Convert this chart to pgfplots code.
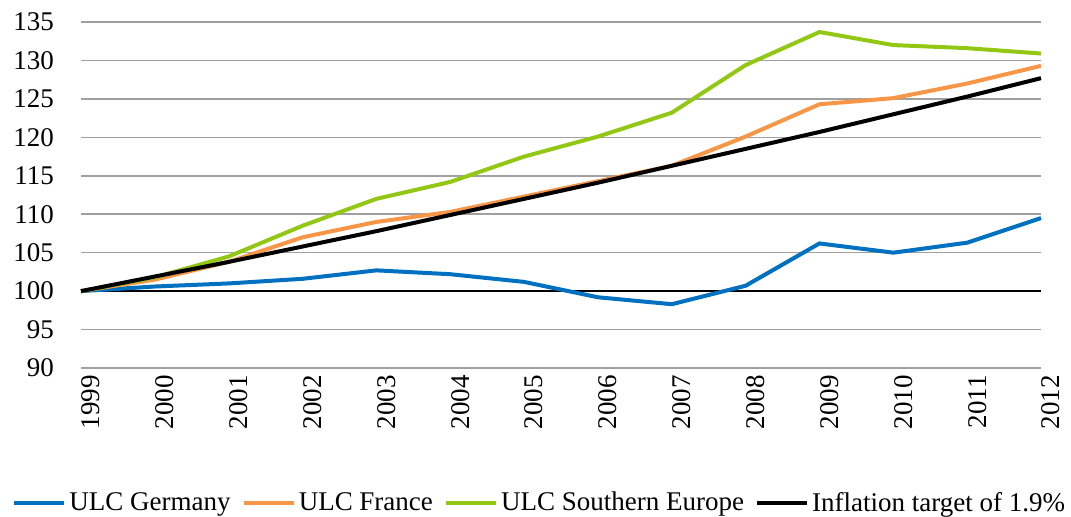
\documentclass[border=0pt]{standalone}
\usepackage{pgfplots}
\pgfplotsset{compat=1.18}
\usepackage{fontspec}
\setmainfont{Liberation Serif}
\definecolor{cblue}{RGB}{0,112,192}
\definecolor{corange}{RGB}{247,150,70}
\definecolor{cgreen}{RGB}{146,200,20}
\definecolor{cgrid}{RGB}{160,160,160}
\begin{document}
\begin{tikzpicture}
\useasboundingbox (-40.5pt,-74pt) rectangle (495pt,184pt);
\begin{axis}[
  scale only axis,
  width=480pt, height=173pt,
  xmin=0, xmax=13, ymin=90, ymax=135,
  axis line style={draw=none},
  xtick={0,...,13},
  xticklabels={1999,2000,2001,2002,2003,2004,2005,2006,2007,2008,2009,2010,2011,2012},
  ytick={90,95,...,135},
  ymajorgrids,
  grid style={cgrid, line width=0.8pt},
  major tick length=0pt,
  tick label style={font=\fontsize{13.5}{16}\selectfont},
  /pgf/number format/assume math mode=true,
  xticklabel style={rotate=90, anchor=east, xshift=0pt, yshift=-5pt},
  yticklabel style={anchor=east, xshift=-10pt},
  legend columns=4,
  legend style={draw=none, fill=none, at={(axis description cs:0,0)}, anchor=west, xshift=-34.5pt, yshift=-67.5pt,
    font=\fontsize{13.5}{16}\selectfont, inner sep=0pt,
    /tikz/every even column/.append style={column sep=4pt},
    nodes={inner sep=1.5pt}},
  legend image code/.code={\draw[#1] (0cm,0cm) -- (0.88cm,0cm);},
  clip=false,
]
\draw[black, line width=0.8pt] (axis cs:0,100) -- (axis cs:13,100);
\addplot[cblue, line width=2pt] coordinates {
(0,100) (1,100.6) (2,101.0) (3,101.6) (4,102.7) (5,102.2) (6,101.2) (7,99.2) (8,98.3) (9,100.7) (10,106.2) (11,105.0) (12,106.3) (13,109.5)};
\addlegendentry{ULC Germany}
\addplot[corange, line width=2pt] coordinates {
(0,100) (1,101.5) (2,103.8) (3,107.0) (4,109.0) (5,110.3) (6,112.3) (7,114.3) (8,116.3) (9,120.1) (10,124.3) (11,125.1) (12,127.0) (13,129.3)};
\addlegendentry{ULC France}
\addplot[cgreen, line width=2pt] coordinates {
(0,100) (1,101.8) (2,104.5) (3,108.5) (4,112.0) (5,114.2) (6,117.5) (7,120.1) (8,123.2) (9,129.4) (10,133.7) (11,132.0) (12,131.6) (13,130.9)};
\addlegendentry{ULC Southern Europe}
\addplot[black, line width=2pt] coordinates {
(0,100) (1,101.9) (2,103.8) (3,105.8) (4,107.8) (5,109.9) (6,112.0) (7,114.1) (8,116.3) (9,118.5) (10,120.7) (11,123.0) (12,125.3) (13,127.7)};
\addlegendentry{Inflation target of 1.9\%}
\end{axis}
\end{tikzpicture}
\end{document}
